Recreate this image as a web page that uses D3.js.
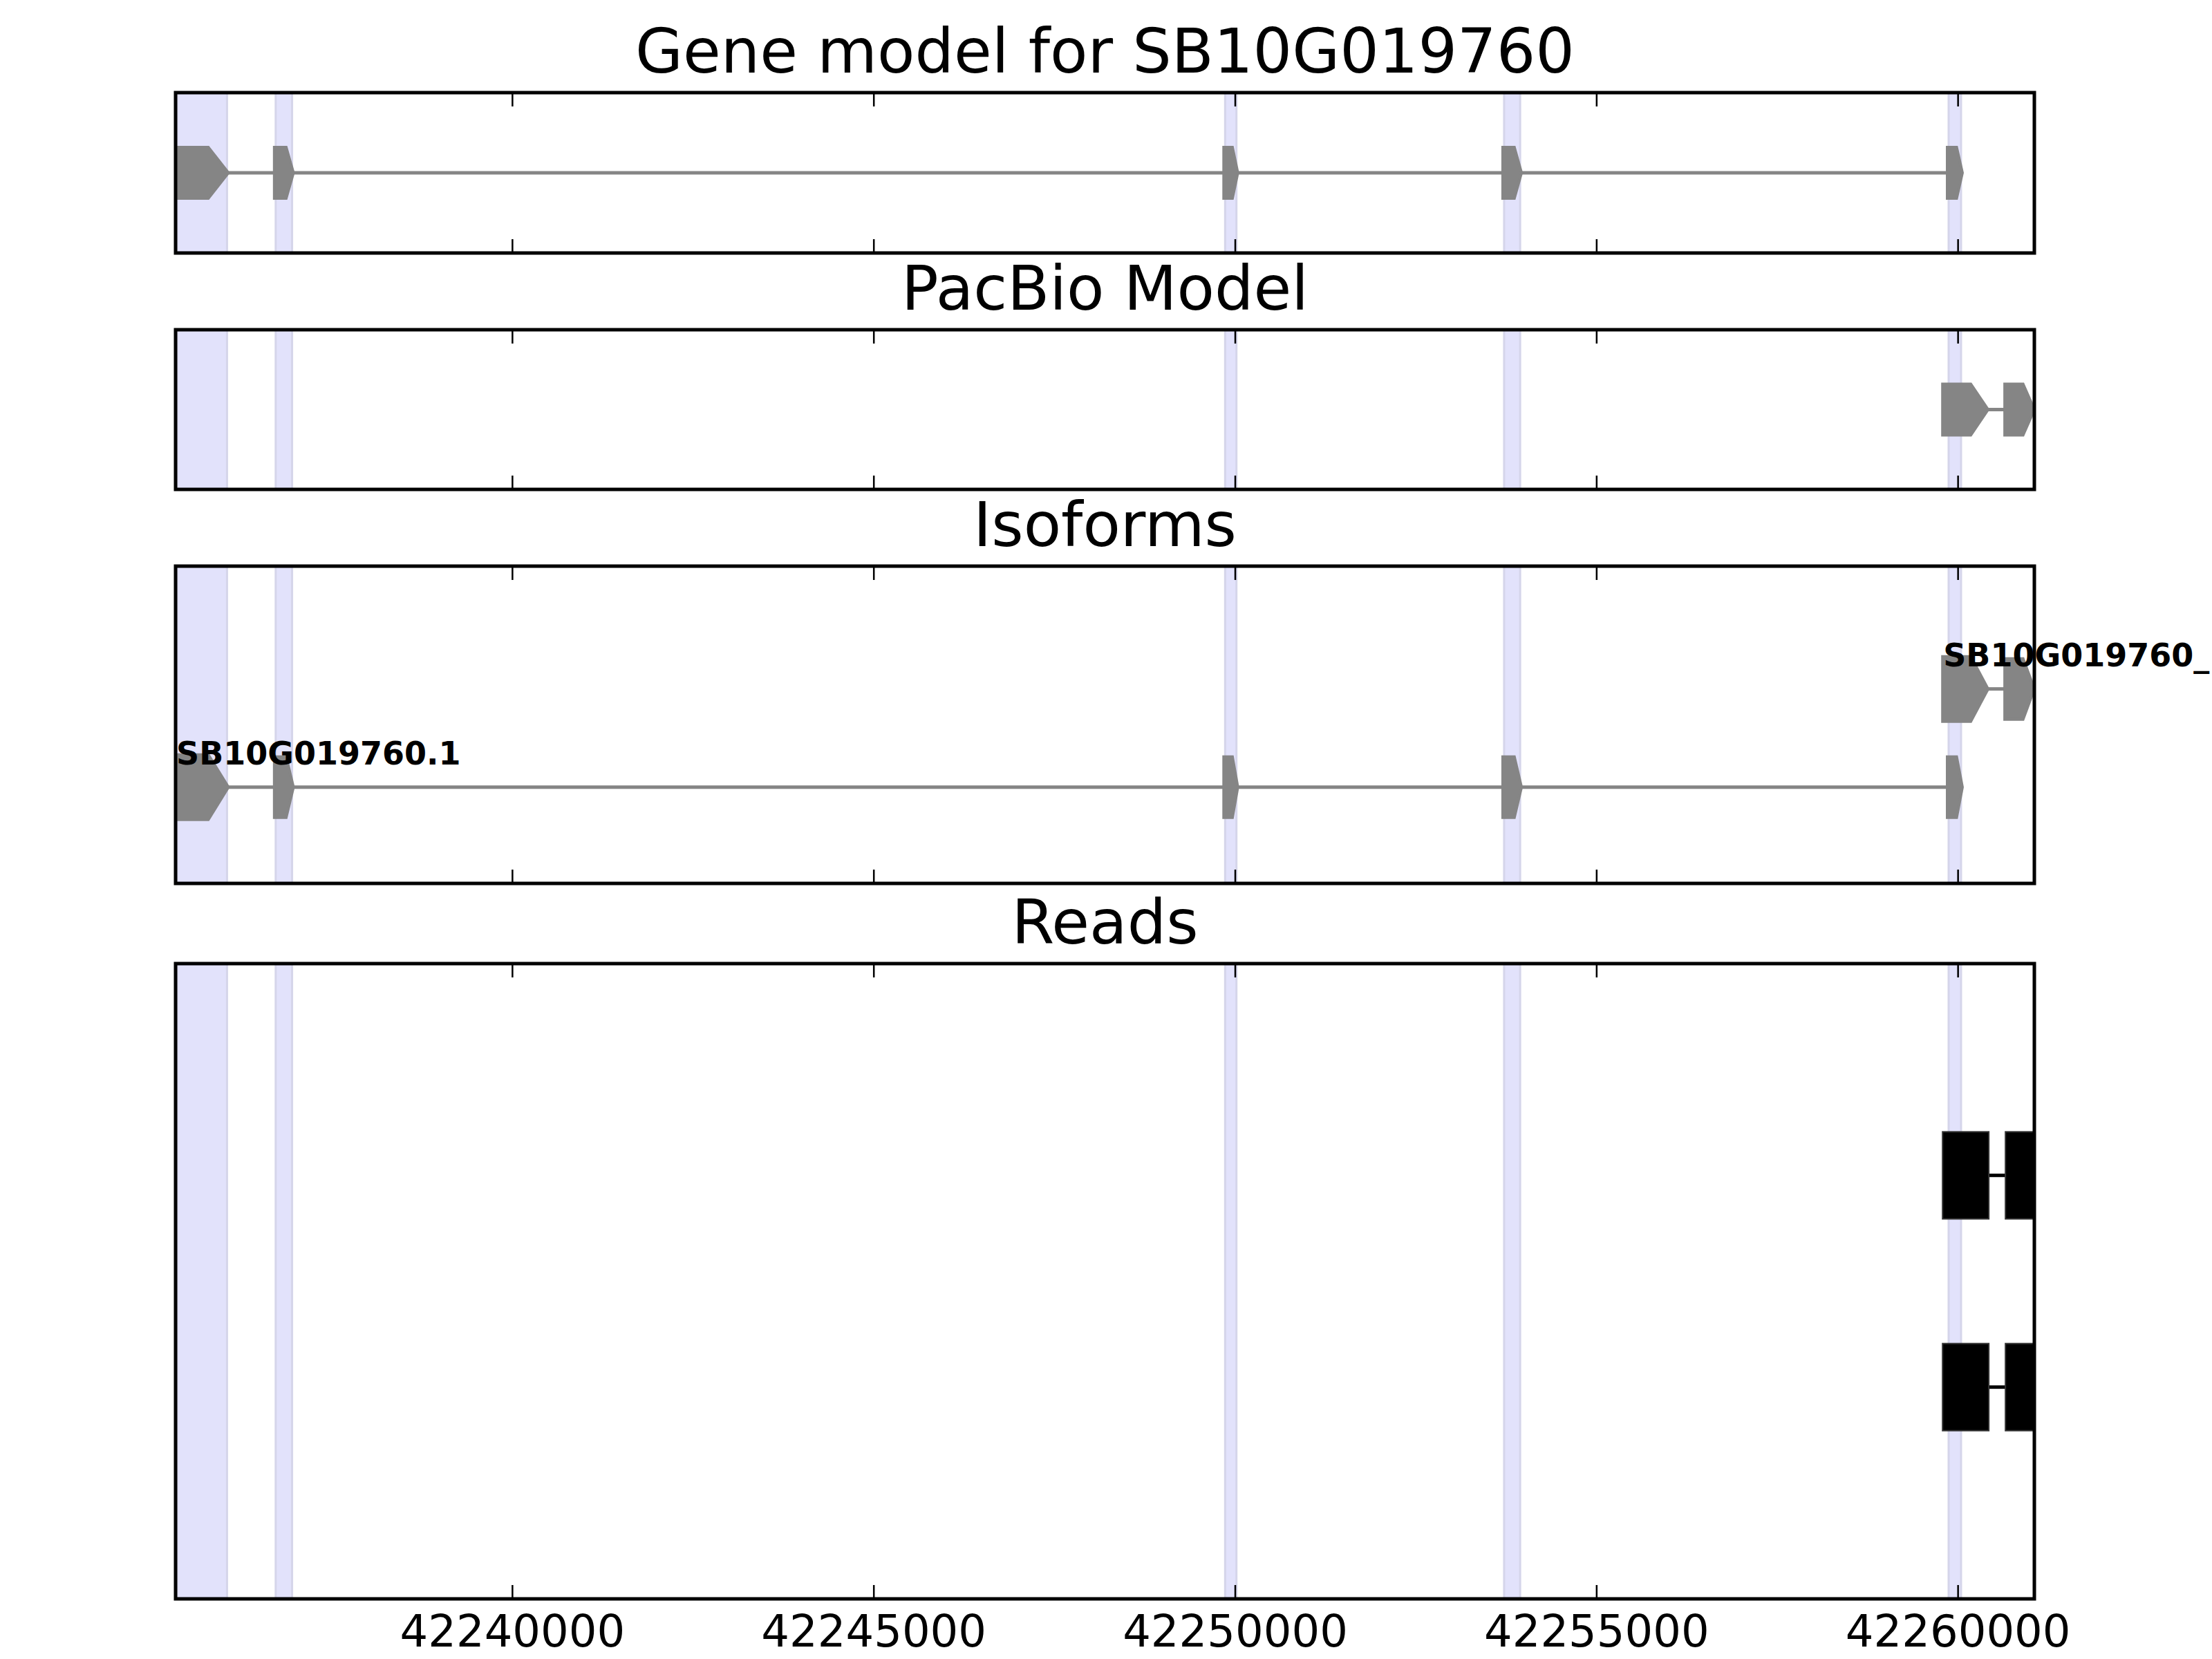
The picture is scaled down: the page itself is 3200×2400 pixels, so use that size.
<!DOCTYPE html>
<html>
<head>
<meta charset="utf-8">
<script src="https://cdn.jsdelivr.net/npm/d3@7"></script>
<style>
	body { margin: 0; background: #fff; }
	text { font-family: "DejaVu Sans", sans-serif; }
</style>
</head>
<body>
<div id="chartDiv"></div>
<script>
;(function() {

	var width = 3200;
	var height = 2400;

	// genomic window shown
	var xRange = [42235344, 42261060];
	var tickValues = [42240000, 42245000, 42250000, 42255000, 42260000];

	var geneName = "SB10G019760";
	var panelTitles = ["Gene model for " + geneName, "PacBio Model", "Isoforms", "Reads"];

	// exons as [start, end]
	var geneExons = [[42235344, 42236075], [42236710, 42236975], [42249845, 42250040], [42253705, 42253965], [42259855, 42260065]];
	var pacbioExons = [[42259790, 42260420], [42260650, 42261060]];

	var isoformNames = ["SB10G019760.1", "SB10G019760_"];
	var isoformExons = [geneExons, pacbioExons];

	// read alignment blocks
	var readBlocks = [
		[[42259790, 42260430], [42260660, 42261100]],
		[[42259790, 42260430], [42260660, 42261100]]
	];

	var left = 254, right = 2943;
	var panels = [
		{ top: 134, bottom: 366, yDomain: [-1, 1] },
		{ top: 477, bottom: 708, yDomain: [-1, 1] },
		{ top: 819, bottom: 1278, yDomain: [-0.98, 2.25] },
		{ top: 1394, bottom: 2313, yDomain: [0, 3] }
	];

	var exonColor = "#858585";
	var bandFill = "#e2e2fb";
	var bandEdge = "#d5d5ea";

	var svg = d3.select("#chartDiv").append("svg")
		.attr("width", width)
		.attr("height", height);

	svg.append("rect").attr("width", width).attr("height", height).attr("fill", "#fff");

	var xScale = d3.scaleLinear().domain(xRange).range([left, right]);

	panels.forEach(function(p, i) {
		p.y = d3.scaleLinear().domain(p.yDomain).range([p.bottom, p.top]);
		p.g = svg.append("g");

		svg.append("clipPath").attr("id", "clip" + i)
			.append("rect")
			.attr("x", left).attr("y", p.top)
			.attr("width", right - left).attr("height", p.bottom - p.top);

		p.plot = p.g.append("g").attr("clip-path", "url(#clip" + i + ")");

		// shaded gene exon regions
		p.plot.selectAll(".band")
			.data(geneExons)
			.enter().append("rect")
			.attr("class", "band")
			.attr("x", function(d) { return xScale(d[0]) + 2; })
			.attr("width", function(d) { return xScale(d[1]) - xScale(d[0]) - 4; })
			.attr("y", p.top - 5)
			.attr("height", p.bottom - p.top + 10)
			.attr("fill", bandFill)
			.attr("stroke", bandEdge)
			.attr("stroke-width", 3);

		p.g.append("text")
			.attr("x", (left + right) / 2)
			.attr("y", p.top - 29)
			.attr("text-anchor", "middle")
			.style("font-size", "89px")
			.text(panelTitles[i]);
	});

	function exonPath(d, cy, h) {
		var x0 = xScale(d[0]), x1 = xScale(d[1]);
		var xr = x1 - (x1 - x0) * 0.38;
		return "M" + x0 + "," + (cy - h / 2) + "L" + xr + "," + (cy - h / 2) +
			"L" + x1 + "," + cy + "L" + xr + "," + (cy + h / 2) +
			"L" + x0 + "," + (cy + h / 2) + "Z";
	}

	function drawTranscript(g, exons, cy, h, firstH) {
		g.append("line")
			.attr("x1", xScale(exons[0][1]))
			.attr("x2", xScale(exons[exons.length - 1][0]))
			.attr("y1", cy).attr("y2", cy)
			.attr("stroke", exonColor)
			.attr("stroke-width", 5);

		g.selectAll(null)
			.data(exons)
			.enter().append("path")
			.attr("d", function(d, i) { return exonPath(d, cy, i == 0 ? firstH : h); })
			.attr("fill", exonColor)
			.attr("stroke", exonColor)
			.attr("stroke-width", 4);
	}

	drawTranscript(panels[0].plot, geneExons, panels[0].y(0), 74, 74);
	drawTranscript(panels[1].plot, pacbioExons, panels[1].y(0), 74, 74);

	// isoforms, first one on the bottom row
	isoformExons.forEach(function(exons, i) {
		var cy = panels[2].y(i);
		drawTranscript(panels[2].plot, exons, cy, 88, 94);
		panels[2].g.append("text")
			.attr("x", xScale(exons[0][0]) + 1)
			.attr("y", cy - 33)
			.style("font-size", "46px")
			.style("font-weight", "bold")
			.text(isoformNames[i]);
	});

	// reads
	readBlocks.forEach(function(blocks, i) {
		var cy = panels[3].y(2 - i);
		panels[3].plot.append("line")
			.attr("x1", xScale(blocks[0][1]))
			.attr("x2", xScale(blocks[blocks.length - 1][0]))
			.attr("y1", cy).attr("y2", cy)
			.attr("stroke", "#000")
			.attr("stroke-width", 5);

		panels[3].plot.selectAll(null)
			.data(blocks)
			.enter().append("rect")
			.attr("x", function(d) { return xScale(d[0]); })
			.attr("width", function(d) { return xScale(d[1]) - xScale(d[0]); })
			.attr("y", cy - 63)
			.attr("height", 126)
			.attr("fill", "#000")
			.attr("stroke", "#333")
			.attr("stroke-width", 2);
	});

	// ticks inside on top and bottom, frame
	panels.forEach(function(p, i) {
		var bottomAxis = d3.axisBottom(xScale)
			.tickValues(tickValues)
			.tickSizeInner(-20)
			.tickSizeOuter(0)
			.tickPadding(24)
			.tickFormat(i == panels.length - 1 ? d3.format("d") : "");
		var topAxis = d3.axisTop(xScale)
			.tickValues(tickValues)
			.tickSizeInner(-20)
			.tickSizeOuter(0)
			.tickFormat("");

		var gb = p.g.append("g")
			.attr("transform", "translate(0," + p.bottom + ")")
			.call(bottomAxis);
		var gt = p.g.append("g")
			.attr("transform", "translate(0," + p.top + ")")
			.call(topAxis);

		[gb, gt].forEach(function(a) {
			a.select(".domain").remove();
			a.selectAll(".tick line").attr("stroke", "#000").attr("stroke-width", 2.5);
			a.selectAll(".tick text")
				.attr("fill", "#000")
				.style("font-size", "64px")
				.style("font-family", "DejaVu Sans, sans-serif");
		});

		p.g.append("rect")
			.attr("x", left).attr("y", p.top)
			.attr("width", right - left).attr("height", p.bottom - p.top)
			.attr("fill", "none")
			.attr("stroke", "#000")
			.attr("stroke-width", 5);
	});

})();
</script>
</body>
</html>
